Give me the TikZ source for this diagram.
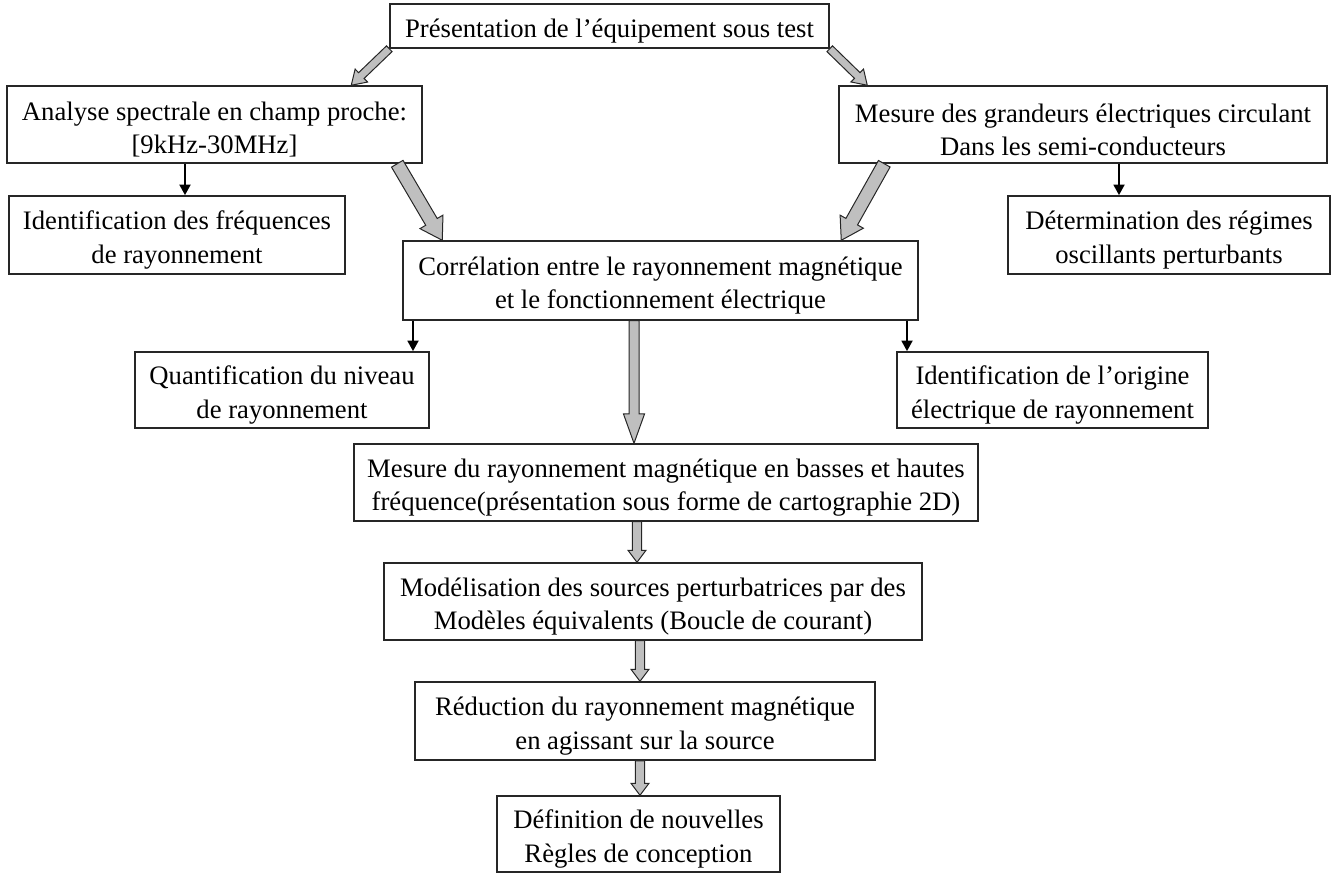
\documentclass[tikz,border=0pt]{standalone}
\usepackage{fontspec}
\setmainfont{Liberation Serif}
\usetikzlibrary{calc,arrows.meta}
\newcommand\bx[6]{\node[box,minimum width={(#4-#2)*0.75pt},minimum height={(#5-#3)*0.75pt}]
  (#1) at ({(#2+#4)/2},{(#3+#5)/2}) {\rule{0pt}{21.5pt}#6};}
\newcommand\fatarr[5]{%
  \coordinate (fa-hb) at ($(#2)!#5!(#1)$);
  \draw[fat] ($(#1)!#3!90:(#2)$) -- ($(fa-hb)!#3!-90:(#1)$) -- ($(fa-hb)!#4!-90:(#1)$) -- (#2)
    -- ($(fa-hb)!#4!90:(#1)$) -- ($(fa-hb)!#3!90:(#1)$) -- ($(#1)!#3!-90:(#2)$) -- cycle;}
\begin{document}
\begin{tikzpicture}[x=0.75pt,y=-0.75pt,
  box/.style={draw=black!85,line width=1.1pt,fill=white,inner sep=0pt,align=center,
    font=\fontsize{20}{25}\selectfont},
  fat/.style={draw=black!85,line width=0.75pt,fill=gray!50,line join=miter},
  thinarr/.style={line width=2pt,-{Triangle[width=8pt,length=8pt]}}]
\useasboundingbox (0,0) rectangle (1333,886);

\bx{top}{390}{4}{829}{48}{Présentation de l’équipement sous test}
\bx{ana}{7}{86}{422}{163}{Analyse spectrale en champ proche:\\ {[}9kHz-30MHz{]}}
\bx{mes}{839}{86}{1327}{163}{Mesure des grandeurs électriques circulant\\ Dans les semi-conducteurs}
\bx{id1}{9}{196}{345}{274}{Identification des fréquences\\ de rayonnement}
\bx{det}{1008}{196}{1330}{274}{Détermination des régimes\\ oscillants perturbants}
\bx{corr}{403}{241}{918}{320}{Corrélation entre le rayonnement magnétique\\ et le fonctionnement électrique}
\bx{quant}{135}{352}{429}{428}{Quantification du niveau\\ de rayonnement}
\bx{id2}{897}{352}{1208}{428}{Identification de l’origine\\ électrique de rayonnement}
\bx{mray}{354}{444}{978}{521}{Mesure du rayonnement magnétique en basses et hautes\\ fréquence(présentation sous forme de cartographie 2D)}
\bx{mod}{384}{563}{922}{640}{Modélisation des sources perturbatrices par des\\ Modèles équivalents (Boucle de courant)}
\bx{red}{415}{682}{875}{760}{Réduction du rayonnement magnétique\\ en agissant sur la source}
\bx{def}{497}{796}{780}{872}{Définition de nouvelles\\ Règles de conception}

% gray arrows
\coordinate (t1a) at (top.south west);
\coordinate (t1b) at ($(ana.north west)+(345,0)$);
\coordinate (t2a) at (top.south east);
\coordinate (t2b) at ($(mes.north west)+(29,0)$);
\fatarr{t1a}{t1b}{3pt}{6.75pt}{10.5pt}
\fatarr{t2a}{t2b}{3pt}{6.75pt}{10.5pt}

\coordinate (b1a) at ($(ana.south west)+(391,0)$);
\coordinate (b1b) at ($(corr.north west)+(40,0)$);
\coordinate (b2a) at ($(mes.south west)+(46,0)$);
\coordinate (b2b) at ($(corr.north west)+(439,0)$);
\fatarr{b1a}{b1b}{5pt}{10pt}{16pt}
\fatarr{b2a}{b2b}{5pt}{10pt}{16pt}

\coordinate (cx1) at (634,0);
\coordinate (cx2) at (637,0);
\coordinate (cx3) at (640,0);
\coordinate (v1a) at (cx1 |- corr.south);
\coordinate (v1b) at (cx1 |- mray.north);
\fatarr{v1a}{v1b}{3.75pt}{7.9pt}{22pt}
\coordinate (v2a) at (cx2 |- mray.south);
\coordinate (v2b) at (cx2 |- mod.north);
\fatarr{v2a}{v2b}{3.4pt}{6.75pt}{9pt}
\coordinate (v3a) at (cx3 |- mod.south);
\coordinate (v3b) at (cx3 |- red.north);
\fatarr{v3a}{v3b}{3.4pt}{6.75pt}{9pt}
\coordinate (v4a) at (cx3 |- red.south);
\coordinate (v4b) at (cx3 |- def.north);
\fatarr{v4a}{v4b}{3.4pt}{6.75pt}{9pt}

% black arrows
\coordinate (k1) at (185,0);
\coordinate (k2) at (1119,0);
\coordinate (k3) at (413,0);
\coordinate (k4) at (907,0);
\draw[thinarr] (k1 |- ana.south) -- (k1 |- id1.north);
\draw[thinarr] (k2 |- mes.south) -- (k2 |- det.north);
\draw[thinarr] (k3 |- corr.south) -- (k3 |- quant.north);
\draw[thinarr] (k4 |- corr.south) -- (k4 |- id2.north);
\end{tikzpicture}
\end{document}
